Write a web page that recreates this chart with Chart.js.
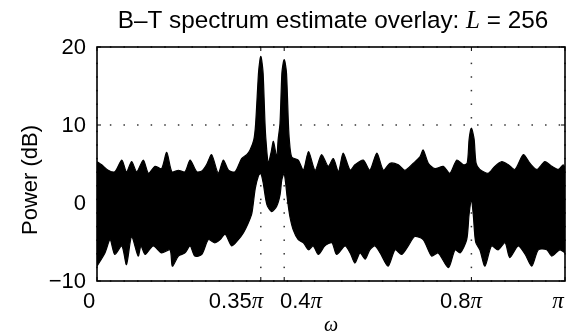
<!DOCTYPE html>
<html><head><meta charset="utf-8">
<script src="https://cdn.jsdelivr.net/npm/chart.js@4/dist/chart.umd.min.js"></script>
<style>html,body{margin:0;padding:0;background:#fff}</style>
</head><body>
<canvas id="c" width="566" height="335"></canvas>
<script>
// Upper envelope of the overlaid B–T estimates (omega in units of pi, power in dB)
const omegaUpper = [0.000,0.010,0.024,0.038,0.053,0.063,0.074,0.085,0.099,0.110,0.124,0.138,0.149,0.160,0.174,0.188,0.199,0.213,0.224,0.234,0.245,0.259,0.270,0.281,0.295,0.309,0.320,0.327,0.335,0.339,0.345,0.348,0.350,0.352,0.355,0.359,0.361,0.366,0.372,0.377,0.384,0.387,0.391,0.395,0.398,0.400,0.402,0.405,0.409,0.411,0.416,0.430,0.441,0.452,0.466,0.480,0.494,0.505,0.516,0.526,0.541,0.551,0.569,0.583,0.598,0.612,0.626,0.644,0.658,0.676,0.690,0.697,0.708,0.722,0.740,0.754,0.769,0.783,0.791,0.795,0.798,0.800,0.802,0.806,0.810,0.818,0.836,0.850,0.865,0.879,0.893,0.911,0.925,0.940,0.957,0.972,0.986,0.996,1.000];
const powerUpper = [5.3,4.9,4.2,4.0,5.5,4.0,5.3,4.0,5.5,3.8,4.7,4.4,6.5,4.0,4.2,4.0,5.5,4.0,4.1,4.9,6.2,3.8,5.5,4.2,4.0,5.7,6.2,6.8,8.1,10.2,16.6,18.3,18.8,18.3,16.6,10.2,8.1,5.1,6.5,7.9,5.9,8.1,10.2,16.6,18.0,18.4,18.0,16.6,10.2,8.1,5.9,5.5,4.2,6.6,4.2,6.2,4.7,5.7,4.0,6.4,4.2,4.9,5.5,4.2,6.4,4.2,5.1,4.9,4.2,5.1,5.9,6.8,5.1,4.4,4.7,3.8,5.5,4.9,5.1,8.1,9.3,9.6,9.3,8.1,5.1,4.3,3.8,4.7,5.3,4.9,4.3,6.2,5.1,4.3,5.3,4.7,4.3,4.9,4.5];
// Lower envelope of the overlaid estimates
const omegaLower = [0.000,0.017,0.028,0.038,0.053,0.063,0.074,0.088,0.094,0.103,0.120,0.138,0.156,0.161,0.174,0.188,0.199,0.209,0.224,0.238,0.252,0.263,0.274,0.288,0.302,0.313,0.323,0.331,0.338,0.345,0.350,0.355,0.363,0.373,0.384,0.391,0.395,0.400,0.407,0.412,0.419,0.430,0.441,0.452,0.462,0.473,0.487,0.502,0.512,0.530,0.541,0.551,0.562,0.573,0.583,0.594,0.605,0.622,0.637,0.651,0.665,0.679,0.697,0.715,0.729,0.751,0.765,0.776,0.790,0.795,0.800,0.804,0.809,0.818,0.829,0.843,0.857,0.872,0.882,0.900,0.915,0.929,0.943,0.961,0.972,0.989,1.000];
const powerLower = [-8.1,-6.4,-4.7,-6.6,-5.5,-7.9,-4.3,-6.8,-5.5,-6.6,-5.5,-6.4,-6.0,-8.1,-6.8,-6.4,-5.5,-6.8,-6.6,-4.7,-5.1,-4.7,-4.0,-5.5,-4.7,-3.8,-2.6,-1.3,1.8,3.5,3.8,2.6,-0.2,-1.1,-0.4,1.0,3.0,3.8,0.4,-1.7,-3.4,-4.7,-5.1,-6.0,-5.5,-6.6,-5.5,-5.1,-6.6,-5.5,-6.4,-7.7,-6.4,-7.2,-6.0,-5.5,-6.4,-8.1,-6.0,-6.6,-5.5,-4.3,-4.7,-6.8,-6.4,-8.3,-6.0,-6.4,-4.7,-1.5,0.4,-1.5,-5.0,-6.0,-8.1,-5.5,-6.0,-5.1,-7.0,-5.5,-6.6,-8.1,-6.0,-6.0,-6.8,-6.0,-6.4];

const xTickValues = [0, 0.35, 0.4, 0.8, 1];
const xTickNumbers = ['0', '0.35', '0.4', '0.8', ''];
const xTickPi = ['', 'π', 'π', 'π', 'π'];
const xLabelCenters = [89, 236, 301, 461, 558];
const yTickValues = [-10, 0, 10, 20];
const yTickLabels = ['−10', '0', '10', '20'];
const titleText = ['B–T spectrum estimate overlay: ', 'L', ' = 256'];
const yTitle = 'Power (dB)';
const xTitle = 'ω';

const SANS = '"Liberation Sans", Arial, Helvetica, sans-serif';
const SERIF = '"Liberation Serif", "Times New Roman", serif';

const framePlugin = {
  id: 'frame',
  beforeDatasetsDraw(chart) {
    const {ctx, chartArea: a, scales: {x, y}} = chart;
    ctx.save();
    ctx.fillStyle = '#333';
    const step = 13.6;
    for (const v of yTickValues) {
      const py = y.getPixelForValue(v);
      for (let px = a.left + step; px < a.right - 3; px += step) ctx.fillRect(px - 0.75, py - 0.75, 1.5, 1.5);
    }
    for (const v of xTickValues) {
      const px = x.getPixelForValue(v);
      for (let py = a.bottom - step; py > a.top + 3; py -= step) ctx.fillRect(px - 0.75, py - 0.75, 1.5, 1.5);
    }
    ctx.restore();
  },
  afterDatasetsDraw(chart) {
    const {ctx, chartArea: a, scales: {x, y}} = chart;
    ctx.save();
    ctx.strokeStyle = '#000';
    ctx.lineWidth = 1.6;
    ctx.strokeRect(a.left, a.top, a.right - a.left, a.bottom - a.top);
    ctx.lineWidth = 1;
    ctx.beginPath();
    for (const v of xTickValues) {
      const px = x.getPixelForValue(v);
      ctx.moveTo(px, a.bottom); ctx.lineTo(px, a.bottom - 4);
      ctx.moveTo(px, a.top); ctx.lineTo(px, a.top + 4);
    }
    for (const v of yTickValues) {
      const py = y.getPixelForValue(v);
      ctx.moveTo(a.left, py); ctx.lineTo(a.left + 4, py);
      ctx.moveTo(a.right, py); ctx.lineTo(a.right - 4, py);
    }
    ctx.stroke();

    ctx.fillStyle = '#000';
    ctx.font = '22px ' + SANS;
    ctx.textAlign = 'right';
    ctx.textBaseline = 'middle';
    yTickValues.forEach((v, i) => ctx.fillText(yTickLabels[i], a.left - 11, y.getPixelForValue(v) + 1));
    ctx.textBaseline = 'alphabetic';
    ctx.textAlign = 'left';
    xTickValues.forEach((v, i) => {
      ctx.font = '22px ' + SANS;
      const w1 = ctx.measureText(xTickNumbers[i]).width;
      ctx.font = 'italic 23px ' + SERIF;
      const w2 = ctx.measureText(xTickPi[i]).width;
      const start = xLabelCenters[i] - (w1 + w2) / 2;
      ctx.font = '22px ' + SANS;
      ctx.fillText(xTickNumbers[i], start, 308);
      ctx.font = 'italic 23px ' + SERIF;
      ctx.fillText(xTickPi[i], start + w1, 308);
    });
    ctx.font = 'italic 20px ' + SERIF;
    ctx.textAlign = 'center';
    ctx.fillText(xTitle, (a.left + a.right) / 2, 331);
    ctx.textAlign = 'left';
    const fonts = ['24.3px ' + SANS, 'italic 25px ' + SERIF, '24.3px ' + SANS];
    const widths = titleText.map((t, i) => { ctx.font = fonts[i]; return ctx.measureText(t).width; });
    let tx = (a.left + a.right) / 2 + 2 - widths.reduce((s, w) => s + w, 0) / 2;
    titleText.forEach((t, i) => { ctx.font = fonts[i]; ctx.fillText(t, tx, 28); tx += widths[i]; });
    ctx.translate(31, 180);
    ctx.rotate(-Math.PI / 2);
    ctx.font = '22px ' + SANS;
    ctx.textAlign = 'center';
    ctx.textBaseline = 'middle';
    ctx.fillText(yTitle, 0, 0);
    ctx.restore();
  }
};

new Chart(document.getElementById('c'), {
  type: 'line',
  data: {
    datasets: [
      {
        label: 'upper',
        data: omegaUpper.map((w, i) => ({x: w, y: powerUpper[i]})),
        borderColor: '#000', backgroundColor: '#000', borderWidth: 1.2,
        pointRadius: 0, tension: 0.25, fill: '+1'
      },
      {
        label: 'lower',
        data: omegaLower.map((w, i) => ({x: w, y: powerLower[i]})),
        borderColor: '#000', backgroundColor: '#000', borderWidth: 1.2,
        pointRadius: 0, tension: 0.25, fill: false
      }
    ]
  },
  options: {
    responsive: false,
    animation: false,
    devicePixelRatio: 1,
    layout: {padding: {left: 97, right: 1, top: 47, bottom: 54}},
    plugins: {legend: {display: false}, tooltip: {enabled: false}, title: {display: false}},
    scales: {
      x: {type: 'linear', min: 0, max: 1, display: false},
      y: {type: 'linear', min: -10, max: 20, display: false}
    }
  },
  plugins: [framePlugin]
});
</script>
</body></html>
